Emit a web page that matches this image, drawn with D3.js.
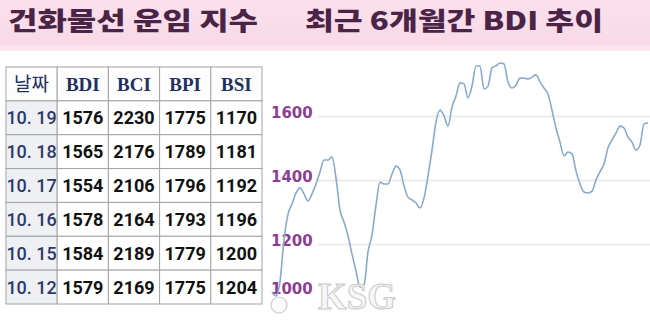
<!DOCTYPE html>
<html>
<head>
<meta charset="utf-8">
<script src="https://cdn.jsdelivr.net/npm/d3@7"></script>
<style>
  body { margin: 0; background: #fff; }
  svg { display: block; }
</style>
</head>
<body>
<div id="chart"></div>
<script>
// table data (latest days)
const dates = ["10. 19", "10. 18", "10. 17", "10. 16", "10. 15", "10. 12"];
const bdi = [1576, 1565, 1554, 1578, 1584, 1579];
const bci = [2230, 2176, 2106, 2164, 2189, 2169];
const bpi = [1775, 1789, 1796, 1793, 1779, 1775];
const bsi = [1170, 1181, 1192, 1196, 1200, 1204];
const headers = ["날짜", "BDI", "BCI", "BPI", "BSI"];

// BDI over last 6 months
const trend = [1052, 1039, 1084, 1214, 1295, 1327, 1361, 1377, 1358, 1336,
  1358, 1389, 1427, 1464, 1464, 1474, 1408, 1308, 1270, 1227,
  1170, 1117, 1067, 1073, 1177, 1230, 1323, 1395, 1389, 1389,
  1420, 1445, 1433, 1383, 1348, 1339, 1330, 1314, 1345, 1414,
  1495, 1583, 1620, 1602, 1570, 1630, 1664, 1705, 1702, 1658,
  1695, 1758, 1758, 1686, 1695, 1752, 1758, 1767, 1764, 1708,
  1689, 1698, 1720, 1720, 1717, 1723, 1730, 1708, 1689, 1670,
  1620, 1564, 1520, 1477, 1489, 1483, 1430, 1389, 1364, 1361,
  1367, 1402, 1427, 1452, 1502, 1527, 1548, 1570, 1564, 1536,
  1520, 1495, 1511, 1577, 1580];
const yTicks = [1000, 1200, 1400, 1600];

const width = 650, height = 320;

const svg = d3.select("#chart").append("svg")
    .attr("width", width)
    .attr("height", height);

// title band
const grad = svg.append("defs").append("linearGradient")
    .attr("id", "band").attr("x1", 0).attr("y1", 0).attr("x2", 0).attr("y2", 1);
grad.append("stop").attr("offset", "0%").attr("stop-color", "#fbe1ec");
grad.append("stop").attr("offset", "85%").attr("stop-color", "#f8d9e7");
grad.append("stop").attr("offset", "100%").attr("stop-color", "#fcedf3");

svg.append("rect").attr("x", 0).attr("y", 0).attr("width", width).attr("height", 51)
    .attr("fill", "url(#band)");

svg.append("text").attr("x", 8).attr("y", 30)
    .attr("textLength", 250).attr("lengthAdjust", "spacingAndGlyphs")
    .attr("font-family", "'Noto Sans CJK KR', sans-serif")
    .attr("font-weight", 900).attr("font-size", 25)
    .attr("fill", "#4a2446")
    .text("건화물선 운임 지수");

svg.append("text").attr("x", 305).attr("y", 30)
    .attr("textLength", 298).attr("lengthAdjust", "spacingAndGlyphs")
    .attr("font-family", "'Noto Sans CJK KR', sans-serif")
    .attr("font-weight", 900).attr("font-size", 25)
    .attr("fill", "#4a2446")
    .text("최근 6개월간 BDI 추이");

// ---- table ----
const colX = d3.scaleBand().domain(d3.range(5)).range([6, 262]);
const rowY = d3.scaleBand().domain(d3.range(7)).range([67, 304]);

const rows = dates.map((d, i) => [d, bdi[i], bci[i], bpi[i], bsi[i]]);

const table = svg.append("g");

headers.forEach((h, c) => {
  table.append("rect")
      .attr("x", colX(c)).attr("y", rowY(0))
      .attr("width", colX.bandwidth()).attr("height", rowY.bandwidth())
      .attr("fill", "#fdfdfd").attr("stroke", "#a3a3a3");
  table.append("text")
      .attr("x", colX(c) + colX.bandwidth() / 2)
      .attr("y", rowY(0) + rowY.bandwidth() / 2 + 7)
      .attr("text-anchor", "middle")
      .attr("font-family", c === 0 ? "'Noto Sans CJK KR', sans-serif" : "'Liberation Serif', serif")
      .attr("font-weight", c === 0 ? 400 : 700)
      .attr("font-size", 19)
      .attr("fill", "#23305e")
      .text(h);
});

rows.forEach((r, i) => {
  r.forEach((v, c) => {
    table.append("rect")
        .attr("x", colX(c)).attr("y", rowY(i + 1))
        .attr("width", colX.bandwidth()).attr("height", rowY.bandwidth())
        .attr("fill", c === 0 ? "#eef0f4" : "#ffffff").attr("stroke", "#a3a3a3");
    table.append("text")
        .attr("x", colX(c) + colX.bandwidth() / 2)
        .attr("y", rowY(i + 1) + rowY.bandwidth() / 2 + 6.5)
        .attr("text-anchor", "middle")
        .attr("font-family", "Roboto, sans-serif")
        .attr("font-weight", c === 0 ? 500 : 700)
        .attr("font-size", 18)
        .attr("fill", c === 0 ? "#2b3a6a" : "#111111")
        .text(v);
  });
});

// ---- line chart ----
const x = d3.scaleLinear().domain([0, trend.length - 1]).range([272, 648]);
const y = d3.scaleLinear().domain([1000, 1600]).range([308.5, 116.5]);

const plot = svg.append("g");
plot.append("clipPath").attr("id", "clip")
  .append("rect").attr("x", 266).attr("y", 52).attr("width", 384).attr("height", 268);

plot.selectAll(".grid")
    .data(yTicks.filter(d => d > 1000))
    .enter().append("line")
    .attr("class", "grid")
    .attr("x1", 318).attr("x2", width)
    .attr("y1", d => y(d)).attr("y2", d => y(d))
    .attr("stroke", "#ececec").attr("stroke-width", 2);

plot.selectAll(".ylab")
    .data(yTicks)
    .enter().append("text")
    .attr("class", "ylab")
    .attr("x", 271)
    .attr("y", d => Math.min(y(d) - 5, 288) + 6)
    .attr("font-family", "'DejaVu Sans', sans-serif")
    .attr("font-weight", 700)
    .attr("font-size", 15)
    .attr("fill", "#8c3f92")
    .text(d => d);

const line = d3.line()
    .x((d, i) => x(i))
    .y(d => y(d))
    .curve(d3.curveMonotoneX);

plot.append("path")
    .datum(trend)
    .attr("clip-path", "url(#clip)")
    .attr("d", line)
    .attr("fill", "none")
    .attr("stroke", "#88aacb")
    .attr("stroke-width", 1.6);

// watermark
const wm = svg.append("g").attr("opacity", 0.9);
wm.append("circle").attr("cx", 279).attr("cy", 305).attr("r", 8)
    .attr("fill", "#fafafa").attr("stroke", "#c9c9c9").attr("stroke-width", 1.2);
wm.append("text").attr("x", 318).attr("y", 309)
    .attr("textLength", 78).attr("lengthAdjust", "spacingAndGlyphs")
    .attr("font-family", "'Liberation Serif', serif")
    .attr("font-weight", 700).attr("font-size", 38)
    .attr("fill", "#f7f7f7").attr("stroke", "#c4c4c4").attr("stroke-width", 1)
    .text("KSG");
</script>
</body>
</html>
